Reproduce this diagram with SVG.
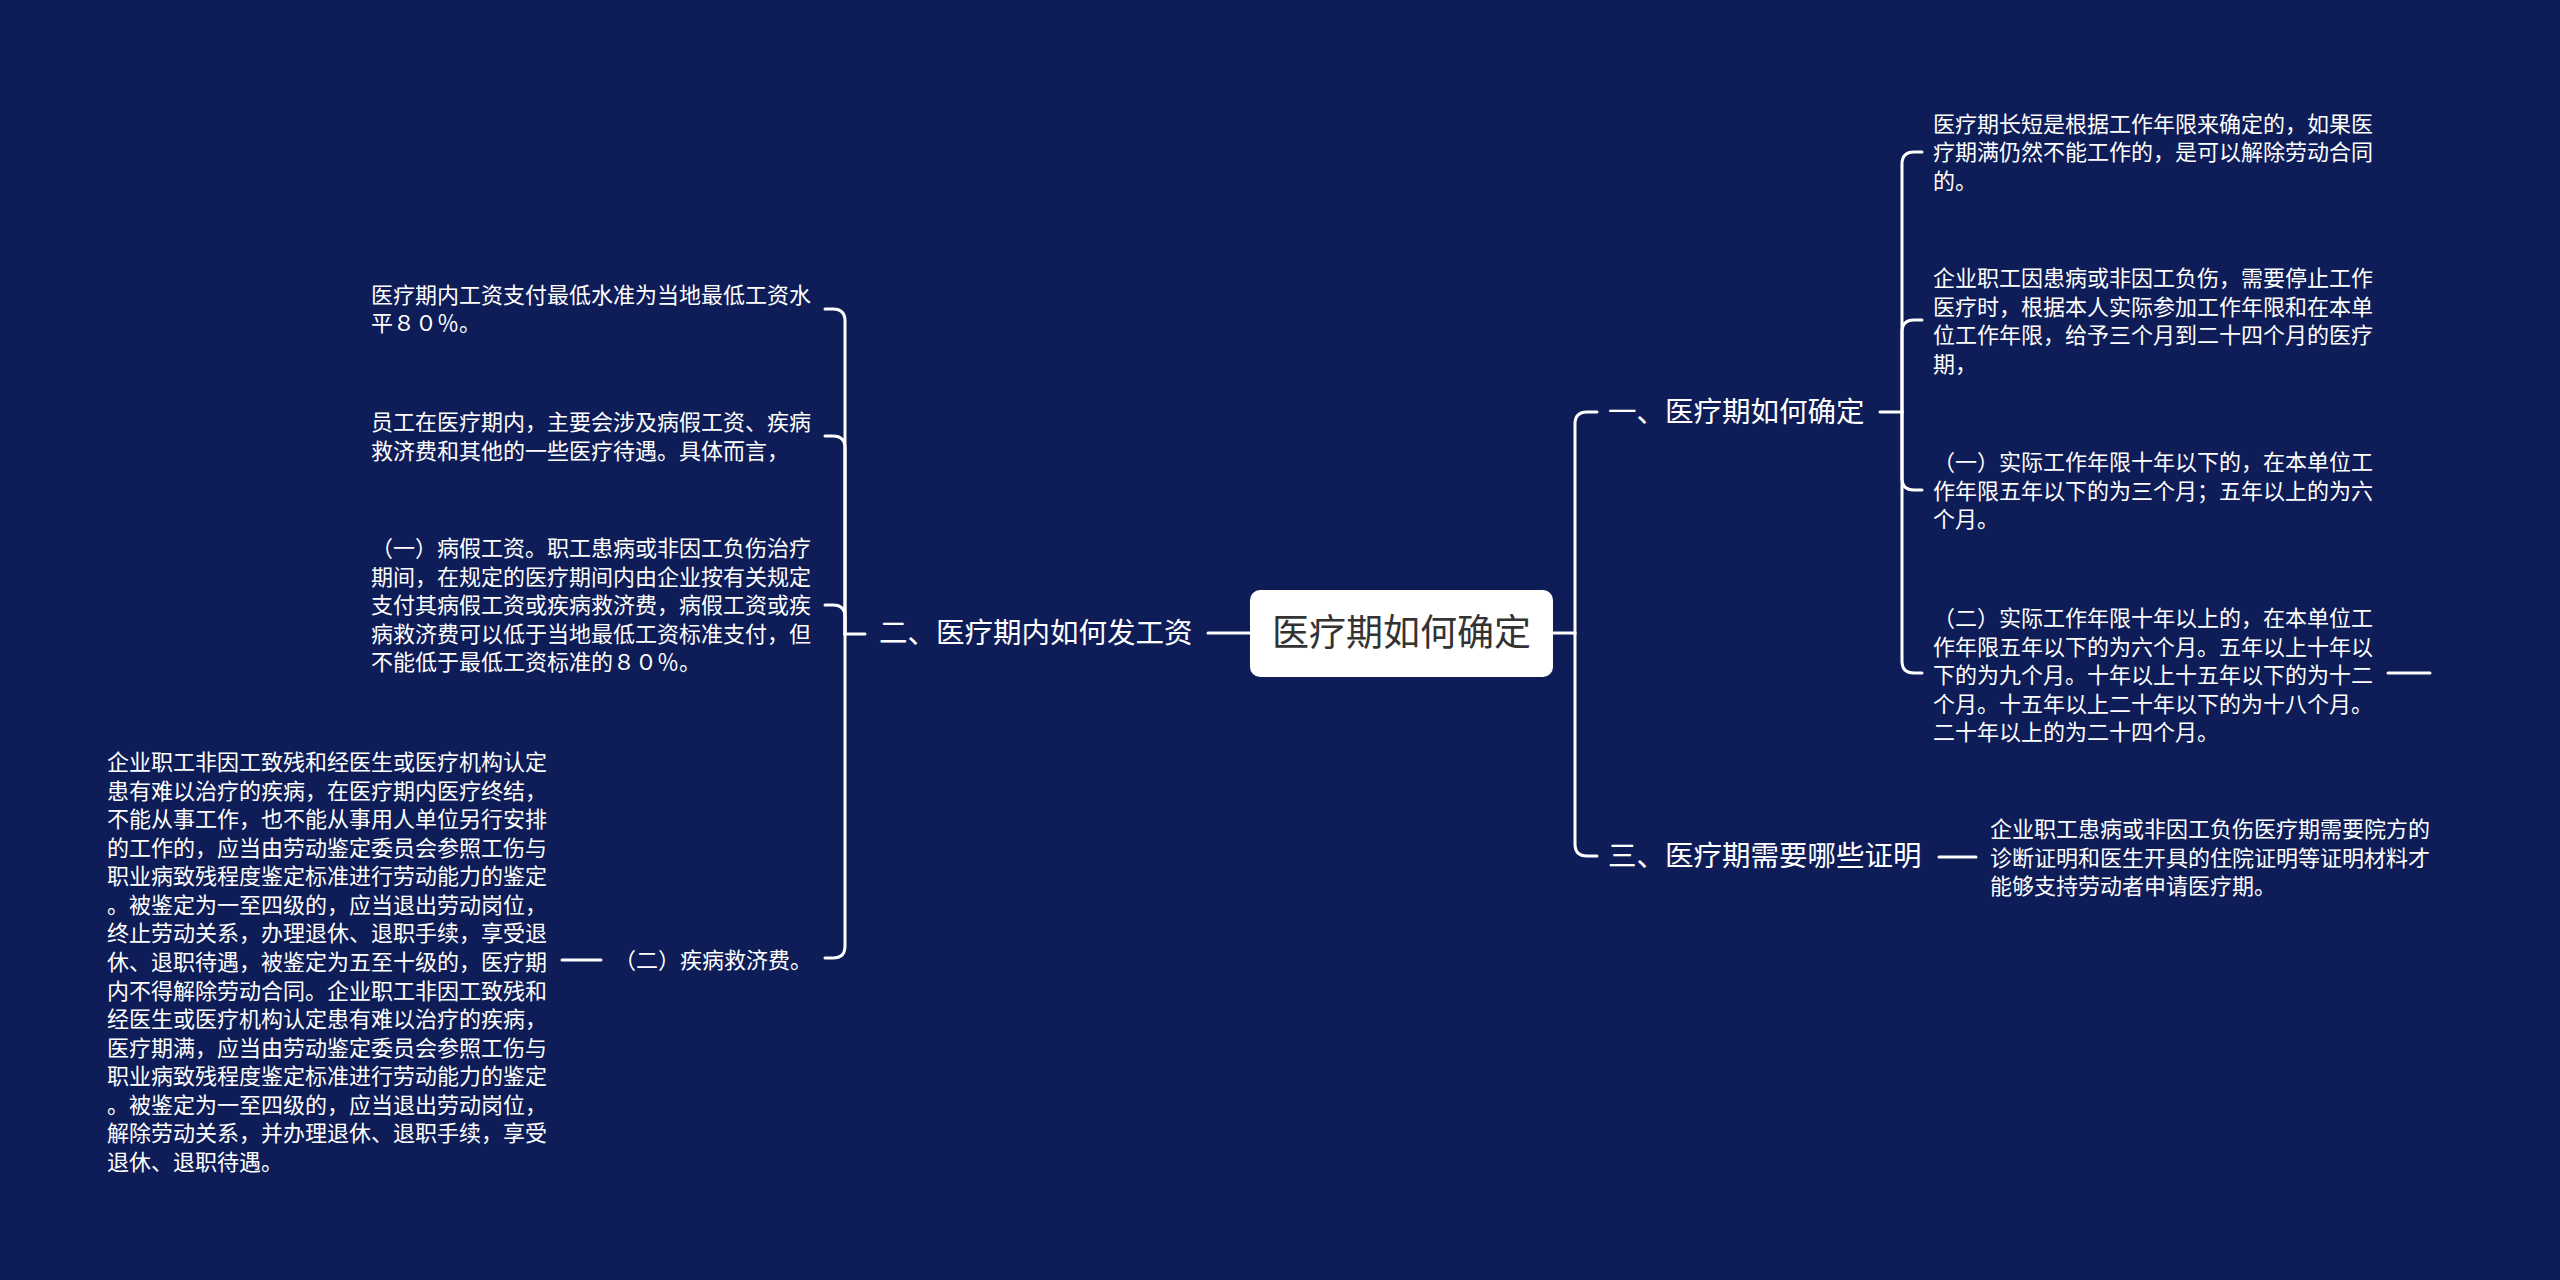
<svg xmlns="http://www.w3.org/2000/svg" width="2560" height="1280" viewBox="0 0 2560 1280">
<style>
.bg{fill:#0e1d58}
.c{fill:none;stroke:#ffffff;stroke-width:3;stroke-linecap:round}
.t{font-family:"Noto Sans CJK SC","Noto Sans",sans-serif;fill:#ffffff}
.l1{font-size:28.5px}
.l2{font-size:22px}
.root{font-family:"Noto Sans CJK SC","Noto Sans",sans-serif;font-size:37px;fill:#333333}
</style>
<rect class="bg" x="0" y="0" width="2560" height="1280"/>
<g id="connectors">
<path class="c" d="M1553,633 H1575"/>
<path class="c" d="M1575,633 V424 Q1575,412 1587,412 H1597"/>
<path class="c" d="M1575,633 V844 Q1575,856 1587,856 H1597"/>
<path class="c" d="M1250,633 H1208"/>
<path class="c" d="M1880,412 H1902"/>
<path class="c" d="M1902,412 V164 Q1902,152 1914,152 H1922"/>
<path class="c" d="M1902,412 V332 Q1902,320 1914,320 H1922"/>
<path class="c" d="M1902,412 V478 Q1902,490 1914,490 H1922"/>
<path class="c" d="M1902,412 V661 Q1902,673 1914,673 H1922"/>
<path class="c" d="M2388,673 H2430"/>
<path class="c" d="M1939,857 H1976"/>
<path class="c" d="M865,634 H845"/>
<path class="c" d="M845,634 V321 Q845,309 833,309 H825"/>
<path class="c" d="M845,634 V448 Q845,436 833,436 H825"/>
<path class="c" d="M845,634 V617 Q845,605 833,605 H825"/>
<path class="c" d="M845,634 V946 Q845,958 833,958 H825"/>
<path class="c" d="M601,960 H562"/>
</g>
<g id="root">
<rect x="1250" y="590" width="303" height="87" rx="10" ry="10" fill="#ffffff"/>
<text class="root" x="1401.5" y="646" text-anchor="middle">医疗期如何确定</text>
</g>
<g id="n1">
<text class="t l1" x="1608" y="422">一、医疗期如何确定</text>
</g>
<g id="n2">
<text class="t l1" x="879" y="643">二、医疗期内如何发工资</text>
</g>
<g id="n3">
<text class="t l1" x="1608" y="866">三、医疗期需要哪些证明</text>
</g>
<g id="r1">
<text class="t l2" x="1933"><tspan x="1933" y="131.5">医疗期长短是根据工作年限来确定的，如果医</tspan><tspan x="1933" y="160">疗期满仍然不能工作的，是可以解除劳动合同</tspan><tspan x="1933" y="188.5">的。</tspan></text>
</g>
<g id="r2">
<text class="t l2" x="1933"><tspan x="1933" y="286">企业职工因患病或非因工负伤，需要停止工作</tspan><tspan x="1933" y="314.5">医疗时，根据本人实际参加工作年限和在本单</tspan><tspan x="1933" y="343">位工作年限，给予三个月到二十四个月的医疗</tspan><tspan x="1933" y="371.5">期，</tspan></text>
</g>
<g id="r3">
<text class="t l2" x="1933"><tspan x="1933" y="470">（一）实际工作年限十年以下的，在本单位工</tspan><tspan x="1933" y="498.5">作年限五年以下的为三个月；五年以上的为六</tspan><tspan x="1933" y="527">个月。</tspan></text>
</g>
<g id="r4">
<text class="t l2" x="1933"><tspan x="1933" y="626">（二）实际工作年限十年以上的，在本单位工</tspan><tspan x="1933" y="654.5">作年限五年以下的为六个月。五年以上十年以</tspan><tspan x="1933" y="683">下的为九个月。十年以上十五年以下的为十二</tspan><tspan x="1933" y="711.5">个月。十五年以上二十年以下的为十八个月。</tspan><tspan x="1933" y="740">二十年以上的为二十四个月。</tspan></text>
</g>
<g id="r5">
<text class="t l2" x="1990"><tspan x="1990" y="837">企业职工患病或非因工负伤医疗期需要院方的</tspan><tspan x="1990" y="865.5">诊断证明和医生开具的住院证明等证明材料才</tspan><tspan x="1990" y="894">能够支持劳动者申请医疗期。</tspan></text>
</g>
<g id="l1">
<text class="t l2" x="371"><tspan x="371" y="303">医疗期内工资支付最低水准为当地最低工资水</tspan><tspan x="371" y="331">平８０％。</tspan></text>
</g>
<g id="l2">
<text class="t l2" x="371"><tspan x="371" y="430">员工在医疗期内，主要会涉及病假工资、疾病</tspan><tspan x="371" y="458.5">救济费和其他的一些医疗待遇。具体而言，</tspan></text>
</g>
<g id="l3">
<text class="t l2" x="371"><tspan x="371" y="556">（一）病假工资。职工患病或非因工负伤治疗</tspan><tspan x="371" y="584.5">期间，在规定的医疗期间内由企业按有关规定</tspan><tspan x="371" y="613">支付其病假工资或疾病救济费，病假工资或疾</tspan><tspan x="371" y="641.5">病救济费可以低于当地最低工资标准支付，但</tspan><tspan x="371" y="670">不能低于最低工资标准的８０％。</tspan></text>
</g>
<g id="l4">
<text class="t l2" x="614" y="968">（二）疾病救济费。</text>
</g>
<g id="l5">
<text class="t l2" x="107"><tspan x="107" y="770">企业职工非因工致残和经医生或医疗机构认定</tspan><tspan x="107" y="798.6">患有难以治疗的疾病，在医疗期内医疗终结，</tspan><tspan x="107" y="827.1">不能从事工作，也不能从事用人单位另行安排</tspan><tspan x="107" y="855.7">的工作的，应当由劳动鉴定委员会参照工伤与</tspan><tspan x="107" y="884.3">职业病致残程度鉴定标准进行劳动能力的鉴定</tspan><tspan x="107" y="912.9">。被鉴定为一至四级的，应当退出劳动岗位，</tspan><tspan x="107" y="941.4">终止劳动关系，办理退休、退职手续，享受退</tspan><tspan x="107" y="970">休、退职待遇，被鉴定为五至十级的，医疗期</tspan><tspan x="107" y="998.6">内不得解除劳动合同。企业职工非因工致残和</tspan><tspan x="107" y="1027.1">经医生或医疗机构认定患有难以治疗的疾病，</tspan><tspan x="107" y="1055.7">医疗期满，应当由劳动鉴定委员会参照工伤与</tspan><tspan x="107" y="1084.3">职业病致残程度鉴定标准进行劳动能力的鉴定</tspan><tspan x="107" y="1112.9">。被鉴定为一至四级的，应当退出劳动岗位，</tspan><tspan x="107" y="1141.4">解除劳动关系，并办理退休、退职手续，享受</tspan><tspan x="107" y="1170">退休、退职待遇。</tspan></text>
</g>
</svg>
